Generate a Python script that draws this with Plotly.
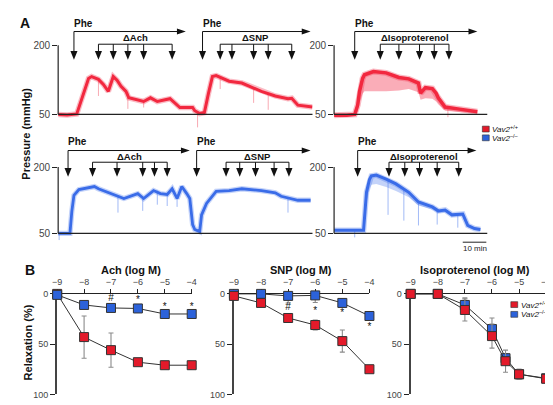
import plotly.graph_objects as go

W, H = 553, 405
FONT = "Liberation Sans, Arial, sans-serif"
RED = "#e31a2a"
BLUE = "#2c62da"
TR_RED = "#f2283f"
TR_BLUE = "#3a6ce8"

# ---------------- Panel A data: time (min), pressure (mmHg) ----------------
# Vav2+/+ , Phe + Ach then Phe + SNP
wt_as_t = [0, 3.8, 7.9, 10.4, 12.9, 14.2, 17.1, 19.2, 21.3, 23.4, 25.0, 26.7, 28.8, 30.0,
           32.9, 36.3, 39.2, 42.1, 47.5, 48.8, 51.7, 57.1, 58.0, 60.1, 62.1, 63.8, 65.5,
           67.1, 72.6, 78.0, 86.3, 92.2, 97.6, 99.2, 101.8, 108.0]
wt_as_p = [50, 49, 51, 90, 128, 132, 126, 115, 100, 132, 124, 111, 100, 86,
           82, 78, 86, 78, 84, 78, 65, 65, 58, 52, 54, 95, 132,
           134, 122, 118, 100, 90, 84, 85, 70, 66]
wt_as_spike_t = [17.1, 29.6, 36.3, 59.2, 68.8, 83.0, 89.2]
wt_as_spike_top = [126, 98, 80, 52, 128, 106, 94]
wt_as_spike_bot = [90, 62, 65, 22, 105, 75, 60]

# Vav2+/+ , Phe + isoproterenol
wt_iso_t = [0, 5.4, 8.75, 10.0, 10.8, 12.1, 12.9, 16.7, 22.1, 27.5, 31.7, 35.8, 36.7,
            38.75, 41.7, 43.3, 44.2, 47.1, 52.5, 60.8]
wt_iso_p = [48, 48, 50, 70, 100, 128, 136, 143, 140, 130, 127, 118, 96,
            108, 106, 96, 86, 66, 62, 56]
wt_iso_low = [46, 46, 48, 55, 75, 95, 100, 100, 100, 102, 105, 98, 82,
              85, 84, 78, 72, 58, 56, 52]
wt_iso_spike_t = [48.3]
wt_iso_spike_top = [64]
wt_iso_spike_bot = [44]

# Vav2-/- , Phe + Ach then Phe + SNP
ko_as_t = [0, 5.0, 5.8, 6.7, 8.8, 15.4, 17.1, 25.4, 27.9, 33.8, 36.3, 40.5, 43.4, 46.3,
           48.4, 50.5, 52.5, 54.6, 55.9, 57.1, 58.0, 60.1, 60.9, 63.0, 67.1, 72.6, 78.0,
           86.3, 92.2, 94.7, 101.8, 107.2]
ko_as_p = [50, 50, 100, 136, 149, 156, 151, 134, 129, 140, 129, 147, 140, 138,
           151, 129, 156, 140, 129, 70, 59, 54, 92, 118, 145, 147, 151,
           147, 142, 134, 125, 125]
ko_as_spike_t = [0.4, 25.4, 35.9, 42.1, 46.3, 50.5, 97.6]
ko_as_spike_top = [50, 134, 129, 147, 138, 129, 129]
ko_as_spike_bot = [35, 97, 101, 115, 112, 110, 97]

# Vav2-/- , Phe + isoproterenol
ko_iso_t = [0, 8.75, 12.5, 13.75, 15.0, 15.8, 17.9, 22.1, 26.25, 31.7, 35.8, 41.7, 44.2,
            47.1, 50.0, 54.6, 55.4, 56.7, 59.6, 62.1]
ko_iso_p = [57, 56, 57, 143, 172, 180, 182, 173, 162, 143, 121, 110, 101,
            103, 92, 94, 85, 68, 61, 59]
ko_iso_low = [55, 54, 55, 120, 150, 160, 162, 155, 146, 132, 113, 104, 96,
              98, 88, 90, 80, 64, 58, 56]
ko_iso_spike_t = [8.75, 22.9, 29.6, 35.8, 43.75, 52.5]
ko_iso_spike_top = [56, 172, 150, 121, 103, 94]
ko_iso_spike_bot = [41, 92, 79, 68, 70, 63]

# drug application times (min)
top_phe1, top_end1 = 6.7, 54.2
top_ach = [17.1, 23.4, 29.6, 36.3, 48.4]
top_phe2, top_end2 = 61.3, 107.2
top_snp = [68.8, 73.8, 83.0, 89.2, 99.2]
top_phe3, top_end3 = 8.75, 60.8
top_iso = [19.6, 27.5, 36.25, 42.5, 48.75]
bot_phe1, bot_end1 = 4.2, 55.9
bot_ach = [14.6, 25.0, 35.9, 40.9, 46.3]
bot_phe2, bot_end2 = 58.8, 107.2
bot_snp = [71.3, 77.1, 83.8, 91.7, 98.0]
bot_phe3, bot_end3 = 10.0, 60.4
bot_iso = [23.3, 30.0, 36.25, 43.75, 52.9]

# ---------------- Panel B data: relaxation (%) vs log M ----------------
ach_x = [-9, -8, -7, -6, -5, -4]
ach_wt = [0, 43, 56, 68, 71, 71]
ach_wt_err = [0, 21, 17, 3, 2, 4]
ach_ko = [1, 11, 14, 14.5, 20, 20]
ach_ko_err = [1, 3, 3, 3, 3, 3]
ach_sig_x = [-7, -6, -5, -4]
ach_sig_y = [5, 7, 14, 14]
ach_sig_t = ["#", "*", "*", "*"]

snp_x = [-9, -8, -7, -6, -5, -4]
snp_wt = [2, 9, 24, 31, 47, 75]
snp_wt_err = [1, 3, 2, 5, 11, 2]
snp_ko = [0, 0, 2, 1.5, 9, 22]
snp_ko_err = [1, 2, 7, 7, 2, 2]
snp_sig_x = [-7, -6, -5, -4]
snp_sig_y = [14, 18, 20, 33]
snp_sig_t = ["#", "*", "*", "*"]

iso_x = [-9, -8, -7, -6, -5.5, -5, -4]
iso_wt = [0, 0, 16, 42, 67, 80, 84.5]
iso_wt_err = [0, 0, 11, 12, 11, 5, 2]
iso_ko = [0, 0, 11, 35, 64, 80, 84]
iso_ko_err = [0, 0, 7, 11, 4, 5, 2]

log_ticks = [-9, -8, -7, -6, -5, -4]
log_labels = ["\u22129", "\u22128", "\u22127", "\u22126", "\u22125", "\u22124"]

# ---------------- helpers ----------------
def py(p):
    return 1 - p / H

def ydom(p50, p200, lo, hi):
    k = (p50 - p200) / 150.0
    return [1 - (p50 + (50 - lo) * k) / H, 1 - (p200 - (hi - 200) * k) / H]

fig = go.Figure()

LO, HI = 15, 215
trace_axes = {
    "1": dict(xd=[46, 305], xr=[0, 108], yd=ydom(104, 33, LO, HI)),
    "2": dict(xd=[327, 483], xr=[0, 65], yd=ydom(104, 33, LO, HI)),
    "3": dict(xd=[46, 305], xr=[0, 108], yd=ydom(226, 158, LO, HI)),
    "4": dict(xd=[327, 483], xr=[0, 65], yd=ydom(226, 158, LO, HI)),
}
shapes = []
anns = []
for k, a in trace_axes.items():
    xn = "xaxis" if k == "1" else "xaxis" + k
    yn = "yaxis" if k == "1" else "yaxis" + k
    xid = "x" if k == "1" else "x" + k
    yid = "y" if k == "1" else "y" + k
    fig.layout[xn] = dict(domain=[a["xd"][0] / W, a["xd"][1] / W], range=a["xr"], visible=False,
                          anchor=yid)
    fig.layout[yn] = dict(domain=a["yd"], range=[LO, HI], anchor=xid, showgrid=False, zeroline=False,
                          showline=False, ticks="outside", ticklen=5, tickwidth=1, tickcolor="#222",
                          tickvals=[50, 200], ticktext=["50", "200"],
                          tickfont=dict(size=10, color="#444", family=FONT))
    shapes.append(dict(type="line", xref=xid + " domain", yref=yid, x0=0, x1=0, y0=50, y1=200,
                       line=dict(color="#222", width=1.2), layer="above"))
    shapes.append(dict(type="line", xref=xid + " domain", yref=yid, x0=0, x1=1, y0=50, y1=50,
                       line=dict(color="#222", width=1.2), layer="above"))


def add_pressure(t, p, xid, yid, color, halo, width, low=None, fillcol=None):
    if low is not None:
        fig.add_trace(go.Scatter(x=t, y=low, xaxis=xid, yaxis=yid, mode="lines",
                                 line=dict(width=0, color=color), showlegend=False, hoverinfo="skip"))
        fig.add_trace(go.Scatter(x=t, y=p, xaxis=xid, yaxis=yid, mode="lines", fill="tonexty",
                                 fillcolor=fillcol, line=dict(color=halo, width=width + 2.5),
                                 showlegend=False, hoverinfo="skip"))
    else:
        fig.add_trace(go.Scatter(x=t, y=p, xaxis=xid, yaxis=yid, mode="lines",
                                 line=dict(color=halo, width=width + 2.5), showlegend=False,
                                 hoverinfo="skip"))
    fig.add_trace(go.Scatter(x=t, y=p, xaxis=xid, yaxis=yid, mode="lines",
                             line=dict(color=color, width=width), showlegend=False))


def add_spikes(st, top, bot, xid, yid, color):
    xs, ys = [], []
    for a, b, c in zip(st, top, bot):
        xs += [a, a, None]
        ys += [b, c, None]
    fig.add_trace(go.Scatter(x=xs, y=ys, xaxis=xid, yaxis=yid, mode="lines",
                             line=dict(color=color, width=0.8), showlegend=False, hoverinfo="skip"))


RHALO = "rgba(242,60,85,0.35)"
BHALO = "rgba(60,110,235,0.3)"
add_spikes(wt_as_spike_t, wt_as_spike_top, wt_as_spike_bot, "x", "y", "rgba(240,60,80,0.55)")
add_pressure(wt_as_t, wt_as_p, "x", "y", TR_RED, RHALO, 3)
add_spikes(wt_iso_spike_t, wt_iso_spike_top, wt_iso_spike_bot, "x2", "y2", "rgba(240,60,80,0.55)")
add_pressure(wt_iso_t, wt_iso_p, "x2", "y2", TR_RED, RHALO, 3.5, wt_iso_low, "rgba(242,60,85,0.42)")
add_spikes(ko_as_spike_t, ko_as_spike_top, ko_as_spike_bot, "x3", "y3", "rgba(60,110,235,0.6)")
add_pressure(ko_as_t, ko_as_p, "x3", "y3", TR_BLUE, BHALO, 2.8)
add_spikes(ko_iso_spike_t, ko_iso_spike_top, ko_iso_spike_bot, "x4", "y4", "rgba(60,110,235,0.6)")
add_pressure(ko_iso_t, ko_iso_p, "x4", "y4", TR_BLUE, BHALO, 3, ko_iso_low, "rgba(60,110,235,0.3)")


def bracket(xid, mpp, phe_t, end_t, doses, label, yp):
    # yp: pixel rows (phe text, main line, label, sub line, arrow base, arrow tip)
    y_txt, y_main, y_lbl, y_sub, y_base, y_tip = yp
    hw = 3.6 * mpp
    L = 9 * mpp
    ln = dict(color="#111", width=1)
    shapes.append(dict(type="line", xref=xid, yref="paper", x0=phe_t, x1=phe_t,
                       y0=py(y_main), y1=py(y_base), line=ln))
    shapes.append(dict(type="line", xref=xid, yref="paper", x0=phe_t, x1=end_t - L * 0.5,
                       y0=py(y_main), y1=py(y_main), line=ln))
    shapes.append(dict(type="path", xref=xid, yref="paper", line=dict(width=0), fillcolor="#111",
                       path=f"M {end_t - L},{py(y_main - 3)} L {end_t},{py(y_main)} L {end_t - L},{py(y_main + 3)} Z"))
    shapes.append(dict(type="line", xref=xid, yref="paper", x0=doses[0], x1=doses[-1],
                       y0=py(y_sub), y1=py(y_sub), line=ln))
    for t in [phe_t] + list(doses):
        if t != phe_t:
            shapes.append(dict(type="line", xref=xid, yref="paper", x0=t, x1=t,
                               y0=py(y_sub), y1=py(y_base), line=ln))
        shapes.append(dict(type="path", xref=xid, yref="paper", line=dict(width=0), fillcolor="#111",
                           path=f"M {t - hw},{py(y_base)} L {t + hw},{py(y_base)} L {t},{py(y_tip)} Z"))
    anns.append(dict(xref=xid, yref="paper", x=phe_t, y=py(y_txt), xanchor="left", yanchor="middle",
                     text="<b>Phe</b>", showarrow=False, xshift=-2,
                     font=dict(size=10, color="#111", family=FONT)))
    anns.append(dict(xref=xid, yref="paper", x=(doses[0] + doses[-1]) / 2, y=py(y_lbl),
                     xanchor="center", yanchor="middle", text="<b>\u0394" + label + "</b>",
                     showarrow=False, font=dict(size=9.5, color="#111", family=FONT)))


mpl = 108 / 259.0
mpr = 65 / 156.0
TOPY = (11, 19, 25, 32, 39, 48)
BOTY = (132, 141, 147, 153, 159, 168)
bracket("x", mpl, top_phe1, top_end1, top_ach, "Ach", TOPY)
bracket("x", mpl, top_phe2, top_end2, top_snp, "SNP", TOPY)
bracket("x2", mpr, top_phe3, top_end3, top_iso, "Isoproterenol", TOPY)
bracket("x3", mpl, bot_phe1, bot_end1, bot_ach, "Ach", BOTY)
bracket("x3", mpl, bot_phe2, bot_end2, bot_snp, "SNP", BOTY)
bracket("x4", mpr, bot_phe3, bot_end3, bot_iso, "Isoproterenol", BOTY)

# scale bar 10 min
shapes.append(dict(type="line", xref="x4", yref="paper", x0=54.6, x1=64.6, y0=py(235), y1=py(235),
                   line=dict(color="#222", width=1)))
anns.append(dict(xref="x4", yref="paper", x=59.6, y=py(241), text="10 min", showarrow=False,
                 font=dict(size=8, color="#222", family=FONT), xanchor="center", yanchor="middle"))

# ---------------- Panel B axes ----------------
b_axes = {"5": [45, 182], "6": [225, 363], "7": [405, 543]}
for k, (x0, x1) in b_axes.items():
    fig.layout["xaxis" + k] = dict(domain=[x0 / W, x1 / W], range=[-9, -4], side="top", anchor="y" + k,
                                   tickvals=log_ticks, ticktext=log_labels, ticks="outside", ticklen=4,
                                   tickcolor="#222", showline=True, linecolor="#222", linewidth=1.2,
                                   showgrid=False, zeroline=False, layer="below traces",
                                   tickfont=dict(size=9, color="#444", family=FONT))
    fig.layout["yaxis" + k] = dict(domain=[1 - 391 / H, 1 - 288 / H], range=[100, 0], anchor="x" + k,
                                   tickvals=[0, 50, 100], ticks="outside", ticklen=5, tickcolor="#222",
                                   showline=True, linecolor="#444", linewidth=2, showgrid=False,
                                   zeroline=False, layer="below traces",
                                   tickfont=dict(size=9, color="#444", family=FONT))


def add_curve(x, y, err, color, xid, yid, name):
    fig.add_trace(go.Scatter(x=x, y=y, xaxis=xid, yaxis=yid, mode="lines+markers", name=name,
                             cliponaxis=False, showlegend=False,
                             error_y=dict(type="data", array=err, color="#8a8a8a", thickness=1.1, width=2.5),
                             line=dict(color="#333", width=1),
                             marker=dict(symbol="square", size=9, color=color,
                                         line=dict(color="#333", width=1))))


def add_sig(x, y, t, xid, yid):
    fig.add_trace(go.Scatter(x=x, y=y, text=t, mode="text", xaxis=xid, yaxis=yid, cliponaxis=False,
                             showlegend=False, textfont=dict(size=10, color="#111", family=FONT)))


add_curve(ach_x, ach_wt, ach_wt_err, RED, "x5", "y5", "Vav2+/+")
add_curve(ach_x, ach_ko, ach_ko_err, BLUE, "x5", "y5", "Vav2-/-")
add_sig(ach_sig_x, ach_sig_y, ach_sig_t, "x5", "y5")
add_curve(snp_x, snp_ko, snp_ko_err, BLUE, "x6", "y6", "Vav2-/-")
add_curve(snp_x, snp_wt, snp_wt_err, RED, "x6", "y6", "Vav2+/+")
add_sig(snp_sig_x, snp_sig_y, snp_sig_t, "x6", "y6")
add_curve(iso_x, iso_ko, iso_ko_err, BLUE, "x7", "y7", "Vav2-/-")
add_curve(iso_x, iso_wt, iso_wt_err, RED, "x7", "y7", "Vav2+/+")

# ---------------- text labels ----------------
def txt(x, y, s, size, angle=0, anchor="center", color="#111"):
    anns.append(dict(xref="paper", yref="paper", x=x / W, y=py(y), text=s, showarrow=False,
                     textangle=angle, xanchor=anchor, yanchor="middle",
                     font=dict(size=size, color=color, family=FONT)))


txt(12, 10, "<b>A</b>", 14)
txt(17, 263, "<b>B</b>", 14)
txt(13, 124, "<b>Pressure (mmHg)</b>", 11, angle=-90)
txt(15, 338, "<b>Relaxation (%)</b>", 11, angle=-90)
txt(120, 263, "<b>Ach (log M)</b>", 11)
txt(293, 263, "<b>SNP (log M)</b>", 11)
txt(471, 263, "<b>Isoproterenol (log M)</b>", 11)

# legends (swatch + label)
def legend(x, y, color, label):
    shapes.append(dict(type="rect", xref="paper", yref="paper", x0=x / W, x1=(x + 7) / W,
                       y0=py(y + 3), y1=py(y - 3), fillcolor=color, line=dict(color="#333", width=0.6)))
    txt(x + 8, y, label, 8, anchor="left")


legend(478, 119, RED, "<i>Vav2</i><sup>+/+</sup>")
legend(478, 128, BLUE, "<i>Vav2</i><sup>\u2013/\u2013</sup>")
legend(507, 299, RED, "<i>Vav2</i><sup>+/+</sup>")
legend(507, 309, BLUE, "<i>Vav2</i><sup>\u2013/\u2013</sup>")

fig.update_layout(width=W, height=H, margin=dict(l=0, r=0, t=0, b=0), paper_bgcolor="white",
                  plot_bgcolor="rgba(0,0,0,0)", showlegend=False, shapes=shapes, annotations=anns,
                  font=dict(family=FONT))
fig.write_html("out.html")
